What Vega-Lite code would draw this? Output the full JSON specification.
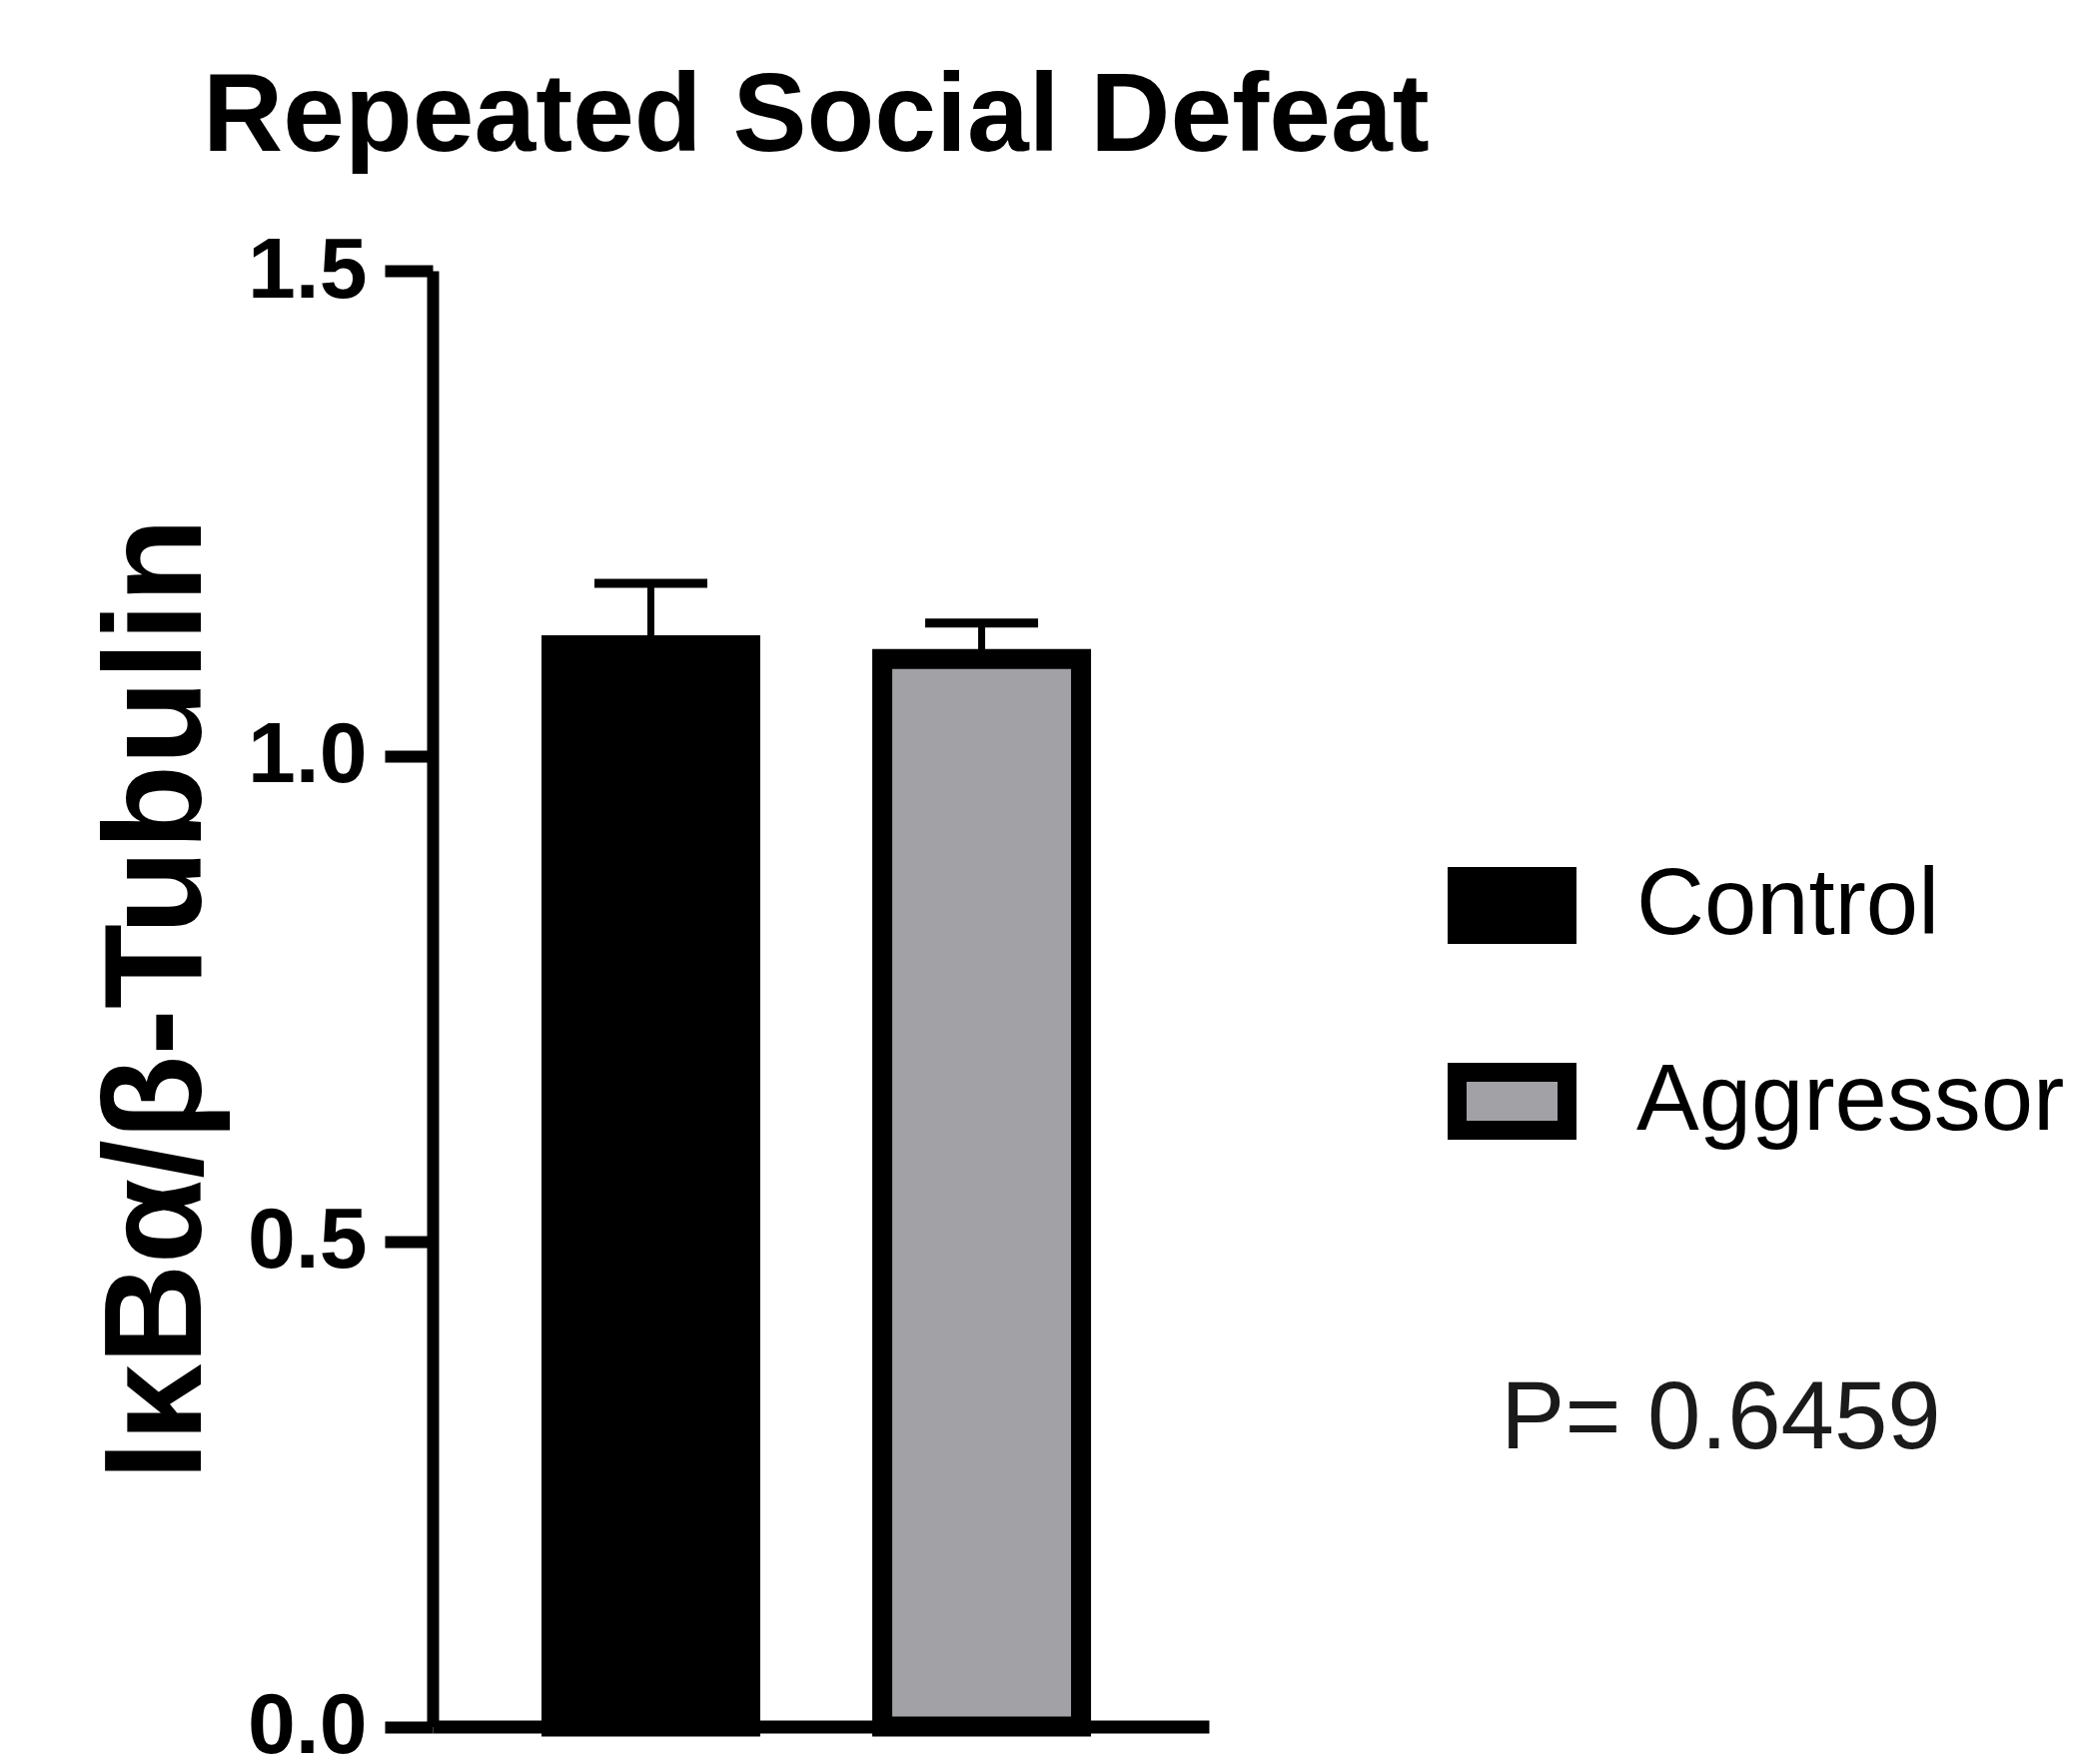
{
  "$schema": "https://vega.github.io/schema/vega-lite/v6.json",
  "autosize": "none",
  "width": 777,
  "height": 1457.5,
  "padding": {"left": 433, "top": 271, "right": 879, "bottom": 37.5},
  "background": "white",
  "config": {"view": {"stroke": null}},
  "title": {
    "text": "Repeated Social Defeat",
    "anchor": "start",
    "frame": "group",
    "dx": -230,
    "offset": -34,
    "baseline": "alphabetic",
    "font": "Liberation Sans, Arial, sans-serif",
    "fontWeight": "bold",
    "fontSize": 111,
    "color": "black"
  },
  "data": {
    "values": [
      {"Group": "Control", "mean": 1.114, "upper": 1.178},
      {"Group": "Aggressor", "mean": 1.100, "upper": 1.137}
    ]
  },
  "encoding": {
    "x": {
      "field": "Group",
      "type": "nominal",
      "sort": ["Control", "Aggressor"],
      "scale": {"paddingInner": 0.399, "paddingOuter": 0.373, "align": 0.482},
      "axis": {
        "labels": false,
        "ticks": false,
        "title": null,
        "domainColor": "black",
        "domainWidth": 13,
        "zindex": 1
      }
    }
  },
  "layer": [
    {
      "mark": {"type": "bar", "stroke": "black", "strokeWidth": 20},
      "encoding": {
        "y": {
          "field": "mean",
          "type": "quantitative",
          "scale": {"domain": [0, 1.5], "nice": false, "zero": true},
          "axis": {
            "values": [0, 0.5, 1, 1.5],
            "format": ".1f",
            "grid": false,
            "domainColor": "black",
            "domainWidth": 12,
            "tickColor": "black",
            "tickSize": 48,
            "tickWidth": 12,
            "labelFont": "Liberation Sans, Arial, sans-serif",
            "labelFontWeight": "bold",
            "labelFontSize": 86,
            "labelColor": "black",
            "labelPadding": 18,
            "labelBaseline": "middle",
            "title": "IκBα/β-Tubulin",
            "titleFont": "Liberation Sans, Arial, sans-serif",
            "titleFontWeight": "bold",
            "titleFontSize": 139,
            "titleColor": "black",
            "titlePadding": 18,
            "zindex": 1
          }
        },
        "fill": {
          "field": "Group",
          "type": "nominal",
          "sort": ["Control", "Aggressor"],
          "scale": {"domain": ["Control", "Aggressor"], "range": ["#000000", "#a2a1a6"]},
          "legend": {
            "orient": "none",
            "legendX": 1016,
            "legendY": 571,
            "title": "\u200b\u00a0\u00a0P= 0.6459",
            "titleOrient": "bottom",
            "titleAnchor": "start",
            "titleFont": "Liberation Sans, Arial, sans-serif",
            "titleFontWeight": "normal",
            "titleFontSize": 96,
            "titleColor": "#1a1a1a",
            "titlePadding": 205,
            "titleLimit": 1000,
            "symbolType": "M-1,-0.527H1V0.527H-1Z",
            "symbolSize": 12100,
            "symbolStrokeColor": "black",
            "symbolStrokeWidth": 19,
            "symbolOpacity": 1,
            "labelFont": "Liberation Sans, Arial, sans-serif",
            "labelFontSize": 94,
            "labelColor": "black",
            "labelOffset": 60,
            "rowPadding": 61,
            "labelLimit": 1000
          }
        }
      }
    },
    {
      "mark": {"type": "rule", "color": "black", "strokeWidth": 7},
      "encoding": {
        "y": {"field": "mean", "type": "quantitative"},
        "y2": {"field": "upper"}
      }
    },
    {
      "mark": {"type": "tick", "color": "black", "size": 113, "thickness": 9, "opacity": 1},
      "encoding": {
        "y": {"field": "upper", "type": "quantitative"}
      }
    }
  ]
}
